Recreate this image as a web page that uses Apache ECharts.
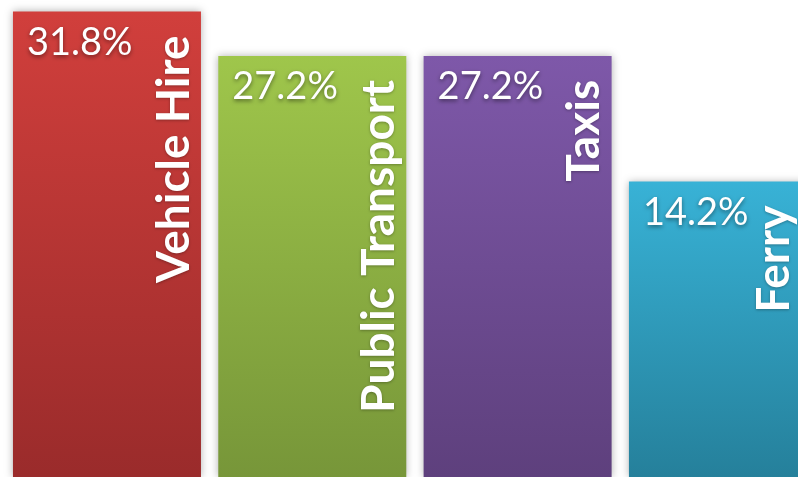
<!DOCTYPE html>
<html>
<head>
<meta charset="utf-8">
<title>Transport share</title>
<style>
    html, body { margin: 0; padding: 0; background: #ffffff; overflow: hidden; }
    /* 最后一根柱子在右边被截断：画布比窗口宽，多出的部分被窗口裁掉 */
    #chart-container { width: 830px; height: 477px; }
</style>
<script src="https://cdn.jsdelivr.net/npm/echarts@6/dist/echarts.min.js"></script>
</head>
<body>
<div id="chart-container"></div>
<script>
// ---- 数据 ----
var categories = ['Vehicle Hire', 'Public Transport', 'Taxis', 'Ferry'];
var shares = [31.8, 27.2, 27.2, 14.2];
var topColors = ['#D13F3C', '#9FC64B', '#7E58A9', '#38B2D6'];
var bottomColors = ['#9A2B2B', '#779639', '#5E407D', '#25809B'];

(function () {
    'use strict';

    /**
     * 每根柱子的渐变色
     */
    function barItems() {
        return shares.map(function (v, i) {
            return {
                value: v,
                itemStyle: {
                    color: new echarts.graphic.LinearGradient(0, 0, 0, 1, [
                        { offset: 0, color: topColors[i] },
                        { offset: 1, color: bottomColors[i] }
                    ])
                }
            };
        });
    }

    /**
     * 类别名标签：最后一根柱子被裁掉，标签要往左挪才能看到
     */
    function nameItems() {
        return shares.map(function (v, i) {
            var item = { value: v };
            if (i === shares.length - 1) {
                item.label = { position: [168, 24] };
            }
            return item;
        });
    }

    function init() {
        var container = document.getElementById('chart-container');
        if (!container || typeof echarts === 'undefined') {
            return;
        }
        var chart = echarts.init(container);

        var yMin = -16.35;

        chart.setOption({
            animation: false,
            grid: { left: 4.3, width: 821.3, top: 0, bottom: 0, outerBoundsMode: 'none' },
            xAxis: {
                type: 'category',
                data: categories,
                show: false
            },
            yAxis: {
                type: 'value',
                min: yMin,
                max: 32.98,
                startValue: yMin,
                show: false,
                splitLine: { show: false }
            },
            series: [
                {
                    // 柱子 + 百分比
                    type: 'bar',
                    barWidth: 188,
                    data: barItems(),
                    itemStyle: {
                        shadowBlur: 8,
                        shadowColor: 'rgba(0,0,0,0.3)'
                    },
                    label: {
                        show: true,
                        position: [14, 12],
                        formatter: '{c}%',
                        color: '#ffffff',
                        fontFamily: 'Lato',
                        fontSize: 38,
                        textShadowColor: 'rgba(0,0,0,0.45)',
                        textShadowBlur: 4,
                        textShadowOffsetY: 2
                    }
                },
                {
                    // 竖排类别名（透明柱子，只放标签）
                    type: 'bar',
                    barWidth: 188,
                    barGap: '-100%',
                    data: nameItems(),
                    itemStyle: { color: 'rgba(0,0,0,0)' },
                    silent: true,
                    label: {
                        show: true,
                        position: [184, 24],
                        rotate: 90,
                        align: 'right',
                        verticalAlign: 'bottom',
                        formatter: '{b}',
                        color: '#ffffff',
                        fontFamily: 'Lato',
                        fontWeight: 'bold',
                        fontSize: 46,
                        textShadowColor: 'rgba(0,0,0,0.3)',
                        textShadowBlur: 3,
                        textShadowOffsetY: 1
                    }
                }
            ]
        });

        window.addEventListener('resize', function () {
            chart.resize();
        });
    }

    if (document.readyState === 'loading') {
        document.addEventListener('DOMContentLoaded', init);
    } else {
        init();
    }
})();
</script>
</body>
</html>
